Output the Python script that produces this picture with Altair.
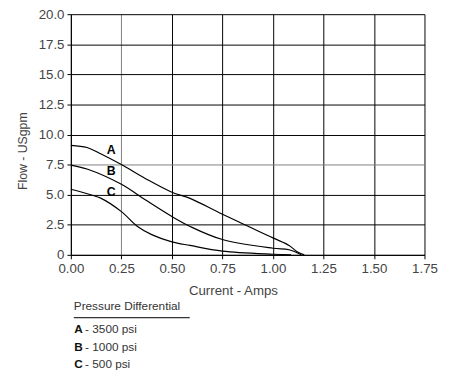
import altair as alt
import pandas as pd

# ---- data ----
series_names = ["A", "B", "C"]
current_a = [0.0, 0.08, 0.15, 0.25, 0.37, 0.50, 0.59, 0.75, 1.00, 1.08, 1.12, 1.155]
flow_a = [9.1, 8.92, 8.38, 7.5, 6.33, 5.2, 4.69, 3.37, 1.41, 0.78, 0.25, 0.0]
current_b = [0.0, 0.08, 0.25, 0.37, 0.50, 0.59, 0.75, 1.00, 1.08, 1.14]
flow_b = [7.46, 7.13, 5.86, 4.55, 3.18, 2.36, 1.27, 0.55, 0.42, 0.0]
current_c = [0.0, 0.06, 0.15, 0.25, 0.33, 0.40, 0.50, 0.59, 0.75, 1.00, 1.09]
flow_c = [5.45, 5.18, 4.69, 3.59, 2.36, 1.68, 1.08, 0.78, 0.31, 0.05, 0.0]

label_x = [0.2, 0.2, 0.2]
label_y = [8.7, 7.0, 5.25]

x_ticks = [0.0, 0.25, 0.5, 0.75, 1.0, 1.25, 1.5, 1.75]
y_ticks = [0.0, 2.5, 5.0, 7.5, 10.0, 12.5, 15.0, 17.5, 20.0]

legend_title = "Pressure Differential"
legend_letters = ["A", "B", "C"]
legend_texts = ["- 3500 psi", "- 1000 psi", "- 500 psi"]

# ---- tables ----
rows = []
for name, xs, ys in [("A", current_a, flow_a), ("B", current_b, flow_b), ("C", current_c, flow_c)]:
    for i, (x, y) in enumerate(zip(xs, ys)):
        rows.append({"series": name, "current": x, "flow": y, "idx": i})
df = pd.DataFrame(rows)
labels_df = pd.DataFrame({"series": series_names, "current": label_x, "flow": label_y})

W, H = 360, 245
SANS = "Liberation Sans, Arial, Helvetica, sans-serif"

x_scale = alt.Scale(domain=[0, 1.75], nice=False, zero=False)
y_scale = alt.Scale(domain=[0, 20], nice=False)

x_axis = alt.Axis(
    values=x_ticks, format=".2f", title="Current - Amps", grid=True,
    gridColor={"condition": {"test": "datum.value == 0.25", "value": "#808080"}, "value": "#000000"},
    gridWidth=1, domainColor="#000000", tickColor="#000000", tickSize=4,
    labelFont=SANS, labelFontSize=13.5, labelColor="#444444", labelPadding=3,
    labelOverlap=False, labelFlush=False,
    titleFont=SANS, titleFontSize=13.5, titleFontWeight="normal", titleColor="#444444",
    titleX=165, titleY=36, titleBaseline="middle", titleAnchor="middle",
)
y_axis = alt.Axis(
    values=y_ticks, title="Flow - USgpm", grid=True,
    labelExpr="datum.value == 0 ? '0' : format(datum.value, '.1f')",
    gridColor={"condition": {"test": "datum.value == 7.5", "value": "#808080"}, "value": "#000000"},
    gridWidth=1, domainColor="#000000", tickColor="#000000", tickSize=4,
    labelFont=SANS, labelFontSize=13.5, labelColor="#444444", labelPadding=3,
    labelOverlap=False, labelFlush=False,
    titleFont=SANS, titleFontSize=12.5, titleFontWeight="normal", titleColor="#444444",
    titleX=-49, titleY=139, titleAngle=270, titleBaseline="middle", titleAlign="center",
)

X = alt.X("current:Q", scale=x_scale, axis=x_axis)
Y = alt.Y("flow:Q", scale=y_scale, axis=y_axis)

lines = alt.Chart(df).mark_line(color="black", strokeWidth=1.2, interpolate="catmull-rom").encode(
    x=X, y=Y, detail="series:N", order="idx:Q",
)

curve_labels = alt.Chart(labels_df).mark_text(
    font=SANS, fontSize=12.5, fontWeight="bold", color="black"
).encode(x=X, y=Y, text="series:N")

leg_title = alt.Chart(pd.DataFrame({"t": [legend_title]})).mark_text(
    font=SANS, fontSize=12, color="#333333", align="left", baseline="middle"
).encode(x=alt.value(3), y=alt.value(297), text="t:N")

leg_rule = alt.Chart(pd.DataFrame({"a": [0]})).mark_rule(color="#333333", strokeWidth=1.2).encode(
    x=alt.value(3), x2=alt.value(121), y=alt.value(309)
)

leg_df = pd.DataFrame({"letter": legend_letters, "text": legend_texts, "row": [0, 1, 2]})
leg_letters = alt.Chart(leg_df).transform_calculate(py="321 + datum.row * 17.5").mark_text(
    font=SANS, fontSize=12, fontWeight="bold", color="#111111", align="left", baseline="middle"
).encode(x=alt.value(3.5), y=alt.Y("py:Q", scale=None), text="letter:N")
leg_texts = alt.Chart(leg_df).transform_calculate(py="321 + datum.row * 17.5").mark_text(
    font=SANS, fontSize=12, color="#333333", align="left", baseline="middle"
).encode(x=alt.value(14.5), y=alt.Y("py:Q", scale=None), text="text:N")

chart = alt.layer(lines, curve_labels, leg_title, leg_rule, leg_letters, leg_texts).properties(
    width=W, height=H,
    background="white",
    autosize=alt.AutoSizeParams(type="none"),
    padding={"left": 64, "top": 3, "right": 27, "bottom": 117},
).configure_view(strokeWidth=0)

chart.save("out.html", embed_options={"renderer": "svg", "actions": False})
